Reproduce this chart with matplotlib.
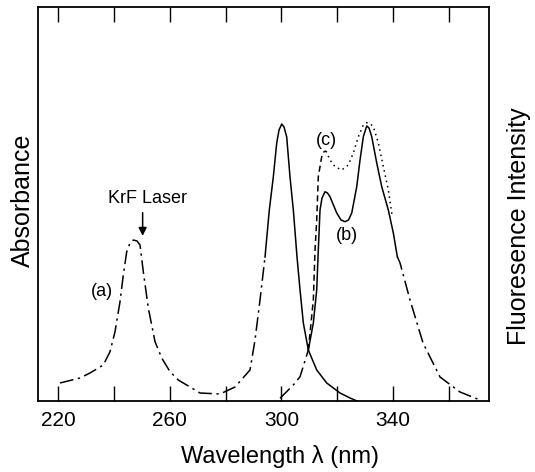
import matplotlib.pyplot as plt

plt.rcParams['font.family'] = ['Liberation Sans', 'DejaVu Sans']

# absorbance (a): KrF band, then the main band near 300 nm
abs_dash_x = [220.72, 227.88, 231.46, 236.22, 238.62, 240.41, 242.20, 243.38, 244.60, 245.78,
              246.96, 248.28, 249.36, 250.54, 252.33, 254.73, 257.13, 260.10, 263.07, 270.84,
              278.00, 283.37, 288.74, 290.53, 292.32, 294.11]
abs_dash_y = [4.57, 5.84, 7.11, 9.14, 12.51, 17.59, 25.20, 31.98, 37.89, 40.10,
              40.86, 40.61, 39.59, 32.82, 23.60, 15.05, 10.91, 7.44, 5.33, 2.03,
              1.78, 3.55, 7.87, 15.48, 25.63, 36.55]
abs_solid_x = [294.11, 295.65, 297.08, 298.30, 299.13, 300.09, 300.92, 301.88, 303.06, 304.25,
               305.57, 306.65, 307.83, 309.62, 312.62, 316.20, 320.97, 324.55, 327.05]
abs_solid_y = [36.55, 48.48, 56.85, 65.48, 68.78, 70.30, 69.54, 67.01, 56.85, 48.48,
               36.55, 28.17, 19.80, 12.94, 7.87, 4.57, 2.03, 0.76, 0.0]

# fluorescence (b)
fb_tail_x = [299.48, 304.25, 306.65, 309.62]
fb_tail_y = [0.69, 4.06, 6.17, 12.94]
fb_solid_x = [309.62, 311.41, 312.62, 313.19, 313.80, 314.52, 315.59, 316.49, 317.38, 319.78,
              321.32, 322.76, 324.01, 325.16, 326.95, 328.13, 329.31, 330.53, 331.35, 332.32,
              334.11, 335.90, 338.26, 340.05, 341.48]
fb_solid_y = [12.94, 19.80, 28.17, 38.32, 48.48, 51.52, 53.12, 52.79, 51.85, 47.72,
              45.94, 45.51, 45.94, 47.72, 54.39, 61.17, 67.08, 69.80, 69.29, 67.08,
              60.41, 54.39, 48.48, 42.64, 36.62]
fb_dash_x = [341.48, 342.45, 346.03, 350.68, 356.77, 363.93, 371.09]
fb_dash_y = [36.62, 35.03, 25.63, 14.72, 6.09, 2.28, 0.25]

# fluorescence (c)
fc_dash_x = [309.62, 311.41, 312.02, 312.62, 313.19, 314.41, 315.24, 315.95]
fc_dash_y = [12.94, 25.63, 38.32, 45.94, 56.93, 62.01, 63.27, 63.45]
fc_dot_x = [315.95, 317.38, 319.17, 321.57, 323.94, 325.73, 327.52, 329.31, 330.53, 331.71,
            332.89, 334.68, 336.47, 338.26, 339.58]
fc_dot_y = [63.45, 61.17, 59.47, 58.63, 59.90, 62.94, 67.08, 70.05, 70.63, 70.43,
            69.62, 65.48, 59.47, 53.55, 47.21]

fig = plt.figure(figsize=(5.35, 4.72), dpi=100)
ax = fig.add_axes([38 / 535, 71 / 472, 451 / 535, 394 / 472])

dashdot = (0, (9, 3, 1.5, 3))
lw = 1.1
ax.plot(abs_dash_x, abs_dash_y, color='black', lw=lw, linestyle=dashdot)
ax.plot(abs_solid_x, abs_solid_y, color='black', lw=lw)
ax.plot(fb_tail_x, fb_tail_y, color='black', lw=lw, linestyle=dashdot)
ax.plot(fb_solid_x, fb_solid_y, color='black', lw=lw)
ax.plot(fb_dash_x, fb_dash_y, color='black', lw=lw, linestyle=dashdot)
ax.plot(fc_dash_x, fc_dash_y, color='black', lw=lw, linestyle=(0, (4, 2.5)))
ax.plot(fc_dot_x, fc_dot_y, color='black', lw=lw, linestyle=(0, (1, 2.5)))

ax.annotate('', xy=(250.3, 41.2), xytext=(250.3, 48.5),
            arrowprops=dict(arrowstyle='-|>', color='black', lw=1.1, mutation_scale=12))
ax.text(252.2, 51.5, 'KrF Laser', fontsize=13, ha='center', va='center')
ax.text(235.8, 27.7, '(a)', fontsize=13, ha='center', va='center')
ax.text(316.0, 66.2, '(c)', fontsize=13, ha='center', va='center')
ax.text(323.4, 42.1, '(b)', fontsize=13, ha='center', va='center')

ax.set_xlim(212.84, 374.3)
ax.set_ylim(0, 100)
ax.set_xticks([220, 260, 300, 340])
ax.set_xticks([240, 280, 320, 360], minor=True)
ax.set_yticks([])
ax.tick_params(axis='x', which='both', direction='in', top=True, length=11,
               width=1.0, labelsize=15, pad=7)
for s in ax.spines.values():
    s.set_linewidth(1.3)

fig.text(280 / 535, 1 - 456 / 472, 'Wavelength λ (nm)', fontsize=17,
         ha='center', va='center')
fig.text(23 / 535, 1 - 200 / 472, 'Absorbance', fontsize=18, rotation=90,
         ha='center', va='center')
fig.text(519 / 535, 1 - 226 / 472, 'Fluoresence Intensity', fontsize=18,
         rotation=90, ha='center', va='center')

fig.savefig('out.png', dpi=100)
